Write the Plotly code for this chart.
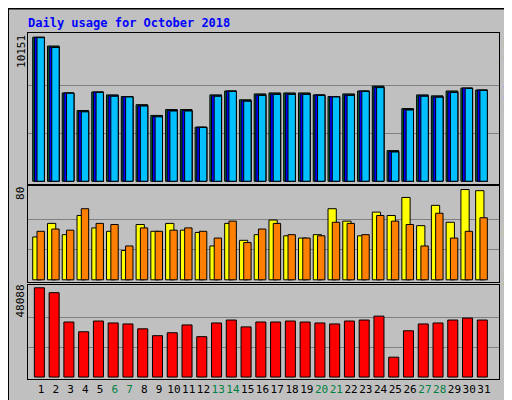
import plotly.graph_objects as go
from plotly.subplots import make_subplots

days = list(range(1, 32))
weekend = [6, 7, 13, 14, 20, 21, 27, 28]

hits = [10151, 9532, 6225, 4984, 6293, 6087, 5972, 5398, 4640, 5053, 5053, 3813, 6087, 6362, 5742, 6156,
        6225, 6225, 6225, 6087, 5972, 6156, 6362, 6707, 2159, 5122, 6087, 6018, 6362, 6569, 6431]
files = [10151, 9463, 6225, 4915, 6293, 6018, 5972, 5329, 4571, 4984, 4984, 3813, 6018, 6362, 5673, 6087,
         6156, 6156, 6156, 6087, 5972, 6087, 6362, 6638, 2090, 5053, 6018, 5949, 6293, 6569, 6431]
pages = [10120, 9430, 6200, 4890, 6260, 5990, 5940, 5300, 4540, 4950, 4950, 3790, 5990, 6330, 5640, 6050,
         6120, 6120, 6120, 6050, 5940, 6050, 6330, 6600, 2060, 5020, 5990, 5920, 6260, 6540, 6400]
sites = [38, 50, 40, 57, 46, 43, 26, 49, 43, 50, 44, 42, 30, 50, 35, 40,
         53, 39, 37, 40, 63, 52, 39, 60, 57, 73, 48, 66, 51, 80, 79]
visits = [43, 45, 44, 63, 50, 49, 30, 46, 43, 44, 46, 43, 37, 52, 33, 45,
          50, 40, 37, 39, 51, 50, 40, 57, 52, 49, 30, 59, 37, 43, 55]
kbytes = [48088, 45455, 29660, 24395, 30186, 29133, 28607, 25974, 22289, 23868, 28080, 21762, 29133, 30713,
          27027, 29660, 29660, 30186, 29660, 29133, 28607, 30186, 30713, 32819, 10706, 24921, 28607, 29133,
          30713, 31766, 30713]

GRAY = '#c0c0c0'
fig = make_subplots(rows=3, cols=1, shared_xaxes=True, vertical_spacing=0.01)

def bar(y, color, off, w, row):
    fig.add_trace(go.Bar(x=days, y=y, marker=dict(color=color, line=dict(color='black', width=1)),
                         offset=off, width=w, showlegend=False, hoverinfo='skip'), row=row, col=1)

bar(hits, '#008040', -0.56, 0.79, 1)
bar(files, '#0000ff', -0.45, 0.68, 1)
bar(pages, '#00c0ff', -0.27, 0.5, 1)
bar(sites, '#ffff00', -0.56, 0.56, 2)
bar(visits, '#ff8000', -0.27, 0.5, 2)
bar(kbytes, '#ff0000', -0.45, 0.68, 3)

ticktext = [f'<span style="color:#008040">{d}</span>' if d in weekend else str(d) for d in days]

fig.update_layout(
    width=512, height=400, barmode='overlay', paper_bgcolor=GRAY, plot_bgcolor=GRAY,
    margin=dict(l=20, r=21, t=25, b=23),
    font=dict(family='DejaVu Sans Mono', size=11, color='black'),
    title=dict(text='<b>Daily usage for October 2018</b>', x=20 / 512, xanchor='left', y=1 - 15 / 400,
               yanchor='middle', font=dict(color='#0000ff', size=12)),
)
fig.update_layout(yaxis=dict(domain=[0.565, 1]), yaxis2=dict(domain=[0.281, 0.557]),
                  yaxis3=dict(domain=[0, 0.273]))
fig.update_xaxes(range=[0.12, 32.02], showgrid=False, showline=True, linecolor='black', mirror=True,
                 tickvals=days, ticktext=ticktext, ticks='', tickangle=0, zeroline=False)
fig.update_xaxes(showticklabels=False, row=1, col=1)
fig.update_xaxes(showticklabels=False, row=2, col=1)

ranges = [(hits[0], [-160, 10450], 0.88), (80, [-1.74, 82.9], 0.93), (kbytes[0], [-1053, 49843], 0.83)]
for i, (mx, rg, pos) in enumerate(ranges):
    fig.update_yaxes(range=rg, tickvals=[mx / 3, 2 * mx / 3], showticklabels=False, gridcolor='#808080',
                     showline=True, linecolor='black', mirror=True, zeroline=False, row=i + 1, col=1)
    yref = 'y domain' if i == 0 else f'y{i + 1} domain'
    fig.add_annotation(text=str(mx), x=-0.015, xref='paper', xanchor='center', y=pos, yref=yref,
                       yanchor='middle', textangle=-90, showarrow=False, font=dict(size=11))

right = [
    ('<span style="color:#00c0ff">Pages</span> / <span style="color:#0000ff">Files</span> / '
     '<span style="color:#008040">Hits</span>', 'y domain', 0.63),
    ('<span style="color:#ff8000">Sites</span> / <span style="color:#ffff00">Visits</span>', 'y2 domain', 0.42),
    ('<span style="color:#ff0000">KBytes</span>', 'y3 domain', 0.19),
]
for txt, yr, pos in right:
    fig.add_annotation(text=txt, x=1 + 10 / 471, xref='paper', xanchor='center', y=pos, yref=yr,
                       yanchor='middle', textangle=-90, showarrow=False, font=dict(size=11))

fig.add_shape(type='rect', xref='paper', yref='paper', x0=-20 / 471, x1=1 + 21 / 471, y0=-23 / 352,
              y1=1 + 25 / 352, line=dict(color='black', width=2), layer='below')

fig.write_html("out.html")
